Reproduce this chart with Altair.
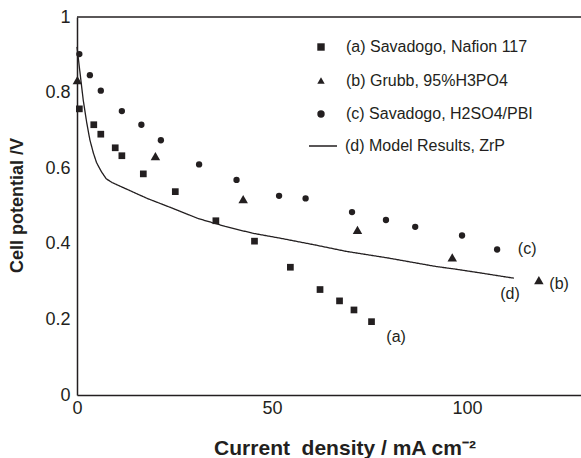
import altair as alt
import pandas as pd

# (a) Savadogo, Nafion 117
a_x = [0.6, 4.3, 6.1, 9.8, 11.5, 17.0, 25.2, 35.6, 45.5, 54.7, 62.3, 67.3, 71.0, 75.5]
a_y = [0.757, 0.715, 0.690, 0.654, 0.633, 0.585, 0.538, 0.461, 0.407, 0.338, 0.279, 0.249, 0.225, 0.194]
# (b) Grubb, 95%H3PO4
b_x = [0.1, 20.1, 42.6, 71.9, 96.2, 118.4]
b_y = [0.833, 0.632, 0.518, 0.437, 0.364, 0.304]
# (c) Savadogo, H2SO4/PBI
c_x = [0.6, 3.3, 6.1, 11.5, 16.5, 21.5, 31.3, 40.9, 51.8, 58.6, 70.5, 79.2, 86.7, 98.7, 107.7]
c_y = [0.902, 0.846, 0.805, 0.751, 0.715, 0.674, 0.610, 0.569, 0.527, 0.520, 0.484, 0.463, 0.445, 0.422, 0.385]
# (d) Model Results, ZrP
d_x = [0, 0.8, 1.6, 2.5, 3.3, 4.2, 5.0, 6.3, 7.5, 9.0, 12, 18, 25, 31, 38, 45, 52, 61, 69, 80, 92, 97, 104, 112]
d_y = [0.921, 0.85, 0.78, 0.72, 0.675, 0.64, 0.615, 0.59, 0.572, 0.562, 0.548, 0.520, 0.492, 0.467,
       0.446, 0.428, 0.415, 0.397, 0.380, 0.362, 0.340, 0.333, 0.322, 0.309]

series_names = ["(a) Savadogo, Nafion 117", "(b) Grubb, 95%H3PO4",
                "(c) Savadogo, H2SO4/PBI", "(d) Model Results, ZrP"]

# curve end labels
lab_text = ["(a)", "(b)", "(c)", "(d)"]
lab_x = [81.8, 123.6, 115.4, 111.0]
lab_y = [0.153, 0.294, 0.386, 0.267]

y_ticks = [0, 0.2, 0.4, 0.6, 0.8, 1]
x_ticks = [0, 50, 100]

INK = "#231f20"
FONT = "Liberation Sans"

a_df = pd.DataFrame({"x": a_x, "y": a_y, "s": series_names[0]})
b_df = pd.DataFrame({"x": b_x, "y": b_y, "s": series_names[1]})
c_df = pd.DataFrame({"x": c_x, "y": c_y, "s": series_names[2]})
line_df = pd.DataFrame({"x": d_x, "y": d_y, "m": series_names[3]})
lab_df = pd.DataFrame({"t": lab_text, "x": lab_x, "y": lab_y})

xscale = alt.Scale(domain=[0, 129.2], nice=False, zero=False)
yscale = alt.Scale(domain=[0, 1], nice=False)

xaxis = alt.Axis(values=x_ticks, title="Current\u00a0 density / mA cm⁻²", grid=False, ticks=False,
                 labelPadding=4, labelFlush=False, titleX=267.5, titleY=59,
                 titleBaseline="alphabetic", titleAlign="center", titleFontSize=21,
                 titleFontWeight="bold")
yaxis = alt.Axis(values=y_ticks, format="~g", title="Cell potential /V", grid=False, ticks=False,
                 labelPadding=7, labelFlush=False, titleX=-60, titleY=188, titleAngle=270,
                 titleAlign="center", titleBaseline="middle", titleFontSize=18,
                 titleFontWeight="bold")

shape_scale = alt.Scale(domain=series_names[:3], range=["square", "triangle-up", "circle"])
shape_legend = alt.Legend(orient="none", legendX=236, legendY=22, title=None,
                          labelFontSize=16, labelFont=FONT, labelColor=INK, labelLimit=400,
                          labelOffset=17, rowPadding=17.5, padding=0, symbolSize=55,
                          symbolFillColor=INK, symbolStrokeWidth=0)


def pts(df, size):
    return alt.Chart(df).mark_point(filled=True, opacity=1, color=INK, size=size).encode(
        x=alt.X("x:Q", scale=xscale, axis=xaxis),
        y=alt.Y("y:Q", scale=yscale, axis=yaxis),
        shape=alt.Shape("s:N", scale=shape_scale, legend=shape_legend),
    )


model = alt.Chart(line_df).mark_line(color=INK, strokeWidth=1.3).encode(
    x=alt.X("x:Q", scale=xscale), y=alt.Y("y:Q", scale=yscale),
    strokeDash=alt.StrokeDash("m:N", scale=alt.Scale(domain=[series_names[3]], range=[[1, 0]]),
                              legend=alt.Legend(orient="none", legendX=231, legendY=114, title=None,
                                                labelFontSize=16, labelFont=FONT, labelColor=INK,
                                                labelLimit=400, labelOffset=7, padding=0,
                                                symbolType="stroke", symbolSize=784,
                                                symbolStrokeColor=INK, symbolStrokeWidth=1.3)),
)

labels = alt.Chart(lab_df).mark_text(fontSize=16, font=FONT, color=INK).encode(
    x=alt.X("x:Q", scale=xscale), y=alt.Y("y:Q", scale=yscale), text="t:N"
)

top_border = alt.Chart(pd.DataFrame({"y": [1]})).mark_rule(color=INK, strokeWidth=1.5).encode(
    y=alt.Y("y:Q", scale=yscale), x=alt.value(0), x2=alt.value(504)
)

chart = alt.layer(model, pts(a_df, 45), pts(b_df, 90), pts(c_df, 40), labels, top_border).properties(
    width=504, height=378,
    autosize=alt.AutoSizeParams(type="none"),
    padding={"left": 77, "top": 17, "right": 0, "bottom": 63},
).configure_view(stroke=None).configure_axis(
    domainColor=INK, domainWidth=1.5, labelFont=FONT, labelFontSize=18, labelColor=INK,
    titleFont=FONT, titleColor=INK
)

chart.save("out.html", embed_options={"renderer": "svg", "actions": False})
